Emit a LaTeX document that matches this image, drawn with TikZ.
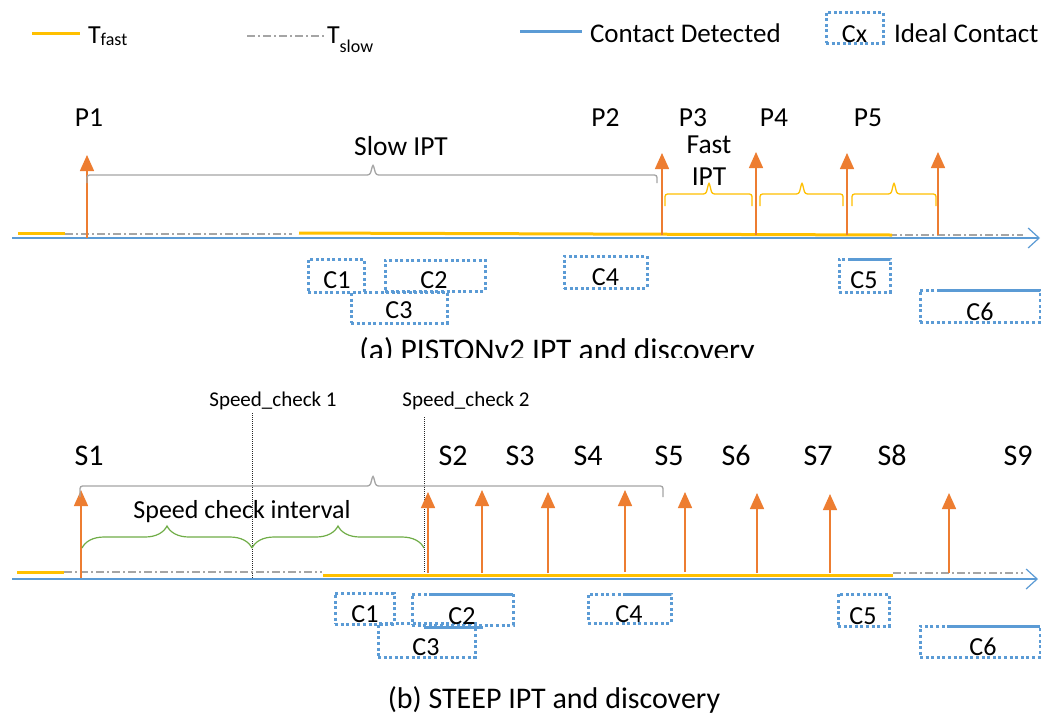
\documentclass[tikz,border=0pt]{standalone}
\usepackage{fontspec}
\setmainfont{Carlito}
\usetikzlibrary{arrows.meta,decorations.pathreplacing}
\definecolor{ptorange}{HTML}{ED7D31}
\definecolor{ptyellow}{HTML}{FFC000}
\definecolor{ptblue}{HTML}{5B9BD5}
\definecolor{ptgray}{HTML}{A5A5A5}
\definecolor{ptgreen}{HTML}{70AD47}
% square brace with short straight ends: style, x-left, x-right, x-tip, y-ends, y-bar, y-tip
\newcommand\flatbrace[7]{%
  \draw[#1, rounded corners=2.5pt] (#2,#5) -- (#2,#6) -- ({#4-3},#6) -- (#4,#7)
    -- ({#4+3},#6) -- (#3,#6) -- (#3,#5);}
\begin{document}
\begin{tikzpicture}[x=1pt,y=-1pt,
  every node/.style={inner sep=0pt, outer sep=0pt},
  fsz/.style={font=\fontsize{#1}{#1}\selectfont},
  lbl/.style={anchor=base, fsz=27.5},
  slbl/.style={anchor=base, fsz=30},
  clbl/.style={anchor=base, fsz=26},
  axisline/.style={ptblue, line width=1.5pt,
    -{Straight Barb[length=11pt,width=20pt,line width=1.2pt]}},
  fastline/.style={ptyellow, line width=3pt},
  slowline/.style={ptgray, line width=1.2pt, dash pattern=on 8pt off 3pt on 2pt off 3pt},
  probe/.style={ptorange, line width=1.5pt, -{Triangle[width=14pt,length=16pt]}},
  cbox/.style={draw=ptblue, line width=3pt, dash pattern=on 3pt off 2.6pt},
  hit/.style={ptblue, line width=3pt},
  graybrace/.style={ptgray, line width=1.3pt},
  yelbrace/.style={ptyellow, line width=1.3pt},
  greenbrace/.style={ptgreen, line width=1.2pt, decorate,
    decoration={brace, amplitude=22pt}},
  checkline/.style={black!85, line width=1pt, densely dotted}
]
\fill[white] (0,0) rectangle (1041,716);
\useasboundingbox (0,0) rectangle (1041,716);

% ---------------- legend ----------------
\coordinate (lgFa) at (32,33);  \coordinate (lgFb) at (80,33);
\coordinate (lgSa) at (247,36); \coordinate (lgSb) at (325,36);
\coordinate (lgCa) at (520,31); \coordinate (lgCb) at (582,31);
\draw[fastline] (lgFa) -- (lgFb);
\draw[slowline] (lgSa) -- (lgSb);
\draw[hit] (lgCa) -- (lgCb);
\node[anchor=base west] (lgTf) at (88,43)
  {\fontsize{26}{26}\selectfont T\fontsize{18}{18}\selectfont\raisebox{-2pt}{fast}};
\node[anchor=base west] (lgTs) at (327,43)
  {\fontsize{26}{26}\selectfont T\fontsize{18}{18}\selectfont\raisebox{-9pt}{slow}};
\node[anchor=base west, fsz=27] (lgCd) at (590,42) {Contact Detected};
\node[cbox, minimum width=57pt, minimum height=31pt] (lgBox) at (854.5,27.5) {};
\node[anchor=base, fsz=26] (lgCx) at (854.5,42) {Cx};
\node[anchor=base west, fsz=27] (lgIc) at (894,42) {Ideal Contact};

% ---------------- (a) PISTONv2 ----------------
\coordinate (aAx0) at (12,238); \coordinate (aAx1) at (1040,238);
\draw[axisline] (aAx0) -- (aAx1);
\coordinate (aF0) at (18,233);  \coordinate (aF1) at (65,233);
\coordinate (aS0) at (65,234);  \coordinate (aS1) at (292,234);
\coordinate (aF2) at (299,233); \coordinate (aF3) at (892,235);
\coordinate (aS2) at (873,235); \coordinate (aS3) at (1023,235);
\draw[fastline] (aF0) -- (aF1);
\draw[slowline] (aS0) -- (aS1);
\draw[slowline] (aS2) -- (aS3);
\draw[fastline] (aF2) -- (aF3);

\foreach \n/\x/\yb/\yt in {1/87/238/155, 2/662/235/153, 3/756/235/152,
                           4/847/235/153, 5/938/235/152}{
  \coordinate (aPb\n) at (\x,\yb);
  \coordinate (aPt\n) at (\x,\yt);
  \draw[probe] (aPb\n) -- (aPt\n);
}
\node[lbl] (aP1) at (89,126) {P1};
\node[lbl] (aP2) at (605.5,126) {P2};
\node[lbl] (aP3) at (693,126) {P3};
\node[lbl] (aP4) at (774,126) {P4};
\node[lbl] (aP5) at (868,126) {P5};

\flatbrace{graybrace}{87}{657}{373}{183}{175}{164}
\node[lbl] (aSlow) at (401,155) {Slow IPT};
\flatbrace{yelbrace}{665}{752}{709}{206}{194}{182}
\flatbrace{yelbrace}{760}{843}{802}{206}{194}{182}
\flatbrace{yelbrace}{852}{936}{894}{206}{194}{182}
\node[lbl] (aFast) at (709,153) {Fast};
\node[lbl] (aIpt) at (709,185) {IPT};

% ideal contacts
\node[cbox, minimum width=56pt, minimum height=33pt] (aC1) at (336,275.5) {};
\node[cbox, minimum width=100pt, minimum height=31pt] (aC2) at (435,275.5) {};
\node[cbox, minimum width=96pt, minimum height=31pt] (aC3) at (399,307.5) {};
\node[cbox, minimum width=83pt, minimum height=32pt] (aC4) at (605.5,272) {};
\node[cbox, minimum width=51pt, minimum height=33pt] (aC5) at (864.5,275.5) {};
\node[cbox, minimum width=120pt, minimum height=32pt] (aC6) at (980,306) {};
\draw[hit] (848,259) -- (aC5.north east);
\draw[hit] (937,290) -- (aC6.north east);
\node[clbl] (aL1) at (337,288) {C1};
\node[clbl] (aL2) at (434,288) {C2};
\node[clbl] (aL3) at (399,318) {C3};
\node[clbl] (aL4) at (605.5,285) {C4};
\node[clbl] (aL5) at (864,288) {C5};
\node[clbl] (aL6) at (980,320) {C6};

\begin{scope}
  \clip (0,0) rectangle (1041,357.5);
  \node[anchor=base, fsz=31.5] (capA) at (557,360) {(a) PISTONv2 IPT and discovery};
\end{scope}

% ---------------- (b) STEEP ----------------
\node[anchor=base, fsz=21] (sc1) at (273,406) {Speed\_check 1};
\node[anchor=base, fsz=21] (sc2) at (466,406) {Speed\_check 2};
\coordinate (sc1a) at (252,413); \coordinate (sc1b) at (252,580);
\coordinate (sc2a) at (424,417); \coordinate (sc2b) at (424,572);
\draw[checkline] (sc1a) -- (sc1b);
\draw[checkline] (sc2a) -- (sc2b);

\coordinate (bAx0) at (12,579); \coordinate (bAx1) at (1038,579);
\draw[axisline] (bAx0) -- (bAx1);
\coordinate (bF0) at (17,572);  \coordinate (bF1) at (64,572);
\coordinate (bS0) at (64,572);  \coordinate (bS1) at (322,572);
\coordinate (bF2) at (323,575); \coordinate (bF3) at (893,575);
\coordinate (bS2) at (893,573); \coordinate (bS3) at (1023,573);
\draw[fastline] (bF0) -- (bF1);
\draw[slowline] (bS0) -- (bS1);
\draw[slowline] (bS2) -- (bS3);
\draw[fastline] (bF2) -- (bF3);

\foreach \n/\x/\yb/\yt in {1/81/578/490, 2/428/573/492, 3/482/573/490,
                           4/548/573/492, 5/625/572/490, 6/685/572/492,
                           7/757/573/493, 8/830/573/494, 9/949/573/493}{
  \coordinate (bPb\n) at (\x,\yb);
  \coordinate (bPt\n) at (\x,\yt);
  \draw[probe] (bPb\n) -- (bPt\n);
}
\foreach \n/\x in {1/89, 2/453, 3/520, 4/588, 5/669, 6/736, 7/818, 8/892, 9/1018}{
  \node[slbl] (bS\n) at (\x,465) {S\n};
}

\flatbrace{graybrace}{80}{663}{373}{497}{486}{475}
\coordinate (gb0) at (82,548); \coordinate (gb1) at (252,548); \coordinate (gb2) at (424,548);
\draw[greenbrace] (gb0) -- (gb1);
\draw[greenbrace] (gb1) -- (gb2);
\node[anchor=base, fsz=26] (bInt) at (242,518) {Speed check interval};

% ideal contacts
\node[cbox, minimum width=59pt, minimum height=31pt] (bC1) at (364.5,608.5) {};
\node[cbox, minimum width=101pt, minimum height=31pt] (bC2) at (462.5,609.5) {};
\node[cbox, minimum width=97pt, minimum height=34pt] (bC3) at (426.5,640.5) {};
\node[cbox, minimum width=83pt, minimum height=29pt] (bC4) at (629.5,608.5) {};
\node[cbox, minimum width=51pt, minimum height=32pt] (bC5) at (863.5,610) {};
\node[cbox, minimum width=120pt, minimum height=31pt] (bC6) at (980,641.5) {};
\draw[hit] (431,594) -- (bC2.north east);
\draw[hit] (424,627) -- (483,627);
\draw[hit] (625,594) -- (bC4.north east);
\draw[hit] (950,626) -- (bC6.north east);
\node[clbl] (bL1) at (365,622) {C1};
\node[clbl] (bL2) at (462,624) {C2};
\node[clbl] (bL3) at (426,655) {C3};
\node[clbl] (bL4) at (629,622) {C4};
\node[clbl] (bL5) at (863,624) {C5};
\node[clbl] (bL6) at (983,655) {C6};

\node[anchor=base, fsz=30] (capB) at (554,708) {(b) STEEP IPT and discovery};
\end{tikzpicture}
\end{document}
